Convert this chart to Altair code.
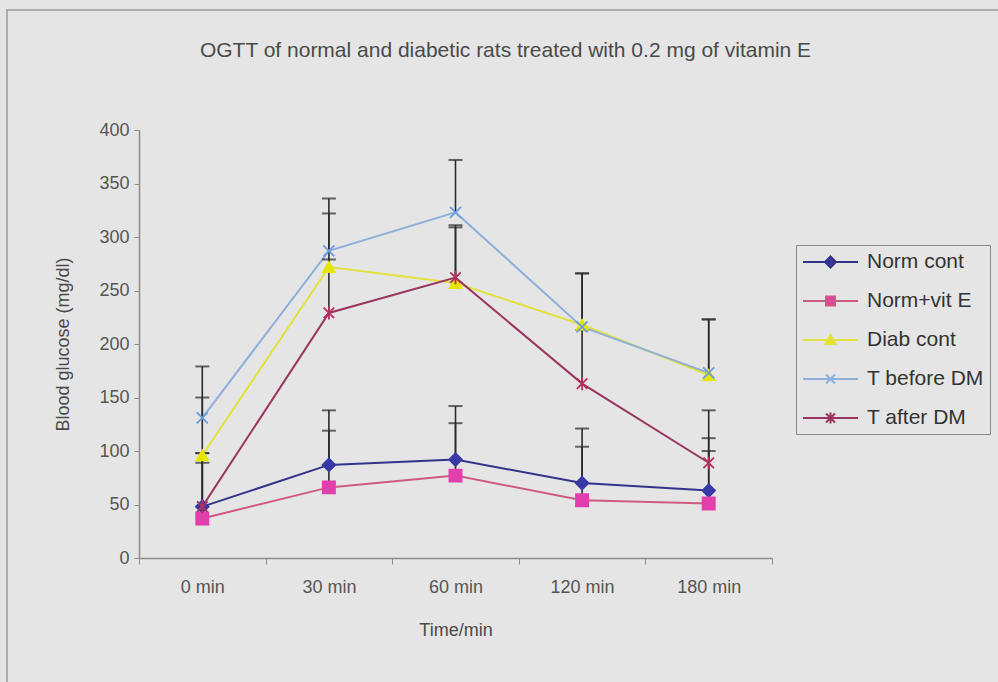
import altair as alt
import pandas as pd

# Sampling times (x categories) and treatment groups
times = ["0 min", "30 min", "60 min", "120 min", "180 min"]
series = ["Norm cont", "Norm+vit E", "Diab cont", "T before DM", "T after DM"]

# Mean blood glucose (mg/dl) per group
norm_cont = [48, 87, 92, 70, 63]
norm_vit_e = [37, 66, 77, 54, 51]
diab_cont = [96, 272, 257, 218, 171]
t_before_dm = [131, 287, 323, 216, 173]
t_after_dm = [48, 229, 262, 163, 89]

# Upper error (SD) per group
norm_cont_sd = [50, 51, 50, 51, 49]
norm_vit_e_sd = [52, 53, 49, 50, 49]
diab_cont_sd = [54, 50, 52, 48, 52]
t_before_dm_sd = [48, 49, 49, 50, 50]
t_after_dm_sd = [50, 50, 49, 50, 49]

# Styling per group
line_colors = ["#33338a", "#cf5a80", "#e2e23c", "#8eafdc", "#9a3560"]
marker_colors = ["#3a3aa6", "#e23fae", "#e6e600", "#6b9ce0", "#b3305f"]
marker_shapes = [
    "diamond",
    "square",
    "triangle-up",
    "M-1,-1L1,1M-1,1L1,-1",
    "M-1,-1L1,1M-1,1L1,-1M0,-1.25L0,1.25",
]
marker_sizes = [160, 110, 140, 130, 160]
legend_shapes = [
    "M-1,0H4.5M1.75,-0.55L2.3,0L1.75,0.55L1.2,0Z",
    "M-1,0H4.5M1.3,-0.45H2.2V0.45H1.3Z",
    "M-1,0H4.5M1.75,-0.5L2.25,0.4H1.25Z",
    "M-1,0H4.5M1.3,-0.45L2.2,0.45M1.3,0.45L2.2,-0.45",
    "M-1,0H4.5M1.3,-0.45L2.2,0.45M1.3,0.45L2.2,-0.45M1.75,-0.55V0.55",
]

means = [norm_cont, norm_vit_e, diab_cont, t_before_dm, t_after_dm]
sds = [norm_cont_sd, norm_vit_e_sd, diab_cont_sd, t_before_dm_sd, t_after_dm_sd]

rows = []
for name, vals, errs in zip(series, means, sds):
    for t, v, e in zip(times, vals, errs):
        rows.append({"series": name, "time": t, "value": v, "top": v + e})
df = pd.DataFrame(rows)

FONT = "Liberation Sans"
BG = "#e5e5e5"

x_enc = alt.X(
    "time:O",
    sort=times,
    scale=alt.Scale(type="band", domain=times, paddingInner=0, paddingOuter=0),
    axis=alt.Axis(
        title="Time/min",
        tickBand="extent",
        labelAngle=0,
        tickSize=6,
        labelPadding=14,
        titlePadding=25,
    ),
)
y_scale = alt.Scale(domain=[0, 400], nice=False)
y_axis = alt.Axis(
    title="Blood glucose (mg/dl)",
    values=list(range(0, 401, 50)),
    grid=False,
    tickSize=5,
    labelPadding=5,
    titlePadding=26,
)
y_enc = alt.Y("value:Q", scale=y_scale, axis=y_axis)

base = alt.Chart(df)

lines = base.mark_line(strokeWidth=2).encode(
    x=x_enc,
    y=y_enc,
    color=alt.Color(
        "series:N", scale=alt.Scale(domain=series, range=line_colors), legend=None
    ),
    order=alt.Order("time_idx:Q"),
).transform_calculate(time_idx="indexof(" + str(times) + ", datum.time)")

err_rules = base.mark_rule(color="#2a2a2a", strokeWidth=1.6).encode(
    x=x_enc, y=y_enc, y2="top:Q"
)

err_caps = base.mark_tick(color="#2a2a2a", size=14, thickness=2).encode(
    x=x_enc, y=alt.Y("top:Q", scale=y_scale, axis=y_axis)
)

points = base.mark_point(filled=True, strokeWidth=1.8, opacity=1).encode(
    x=x_enc,
    y=y_enc,
    shape=alt.Shape(
        "series:N", scale=alt.Scale(domain=series, range=marker_shapes), legend=None
    ),
    fill=alt.Fill(
        "series:N", scale=alt.Scale(domain=series, range=marker_colors), legend=None
    ),
    stroke=alt.Stroke(
        "series:N", scale=alt.Scale(domain=series, range=marker_colors), legend=None
    ),
    size=alt.Size(
        "series:N", scale=alt.Scale(domain=series, range=marker_sizes), legend=None
    ),
)

legend_spec = alt.Legend(
    title=None,
    orient="none",
    legendX=657,
    legendY=115,
    direction="vertical",
    symbolSize=400,
    symbolStrokeWidth=2,
    symbolOpacity=1,
    labelOffset=43,
    labelFontSize=21,
    labelFont=FONT,
    labelColor="#333333",
    labelLimit=0,
    rowPadding=18,
    padding=6,
    strokeColor="#8a8a8a",
    fillColor=BG,
)

legend_layer = base.mark_point(filled=True, opacity=0).encode(
    x=x_enc,
    y=y_enc,
    shape=alt.Shape(
        "series:N", scale=alt.Scale(domain=series, range=legend_shapes), legend=legend_spec
    ),
    fill=alt.Fill(
        "series:N", scale=alt.Scale(domain=series, range=marker_colors), legend=legend_spec
    ),
    stroke=alt.Stroke(
        "series:N", scale=alt.Scale(domain=series, range=line_colors), legend=legend_spec
    ),
)

# Chart-area border
frame = alt.Chart(pd.DataFrame({"k": [0]})).mark_rect(
    filled=False, stroke="#9a9a9a", strokeWidth=1.5
).encode(
    x=alt.value(-132), x2=alt.value(900), y=alt.value(-120), y2=alt.value(600)
)

chart = (
    alt.layer(frame, lines, err_rules, err_caps, points, legend_layer)
    .resolve_scale(shape="independent", fill="independent", stroke="independent")
    .properties(
        width=633,
        height=428,
        autosize=alt.AutoSizeParams(type="none"),
        padding={"left": 139, "top": 130, "right": 226, "bottom": 124},
        background=BG,
        title=alt.TitleParams(
            text="OGTT of normal and diabetic rats treated with 0.2 mg of vitamin E",
            font=FONT,
            fontSize=21,
            fontWeight="normal",
            color="#4a4a4a",
            anchor="middle",
            frame="group",
            dx=50,
            dy=122,
            offset=70,
        ),
    )
    .configure_view(stroke=None)
    .configure_axis(
        labelFont=FONT,
        titleFont=FONT,
        labelFontSize=18,
        titleFontSize=18,
        titleFontWeight="normal",
        labelColor="#555555",
        titleColor="#4a4a4a",
        domainColor="#8c8c8c",
        tickColor="#8c8c8c",
        domainWidth=1.5,
    )
)

chart.save("out.html", embed_options={"renderer": "svg", "actions": False})
